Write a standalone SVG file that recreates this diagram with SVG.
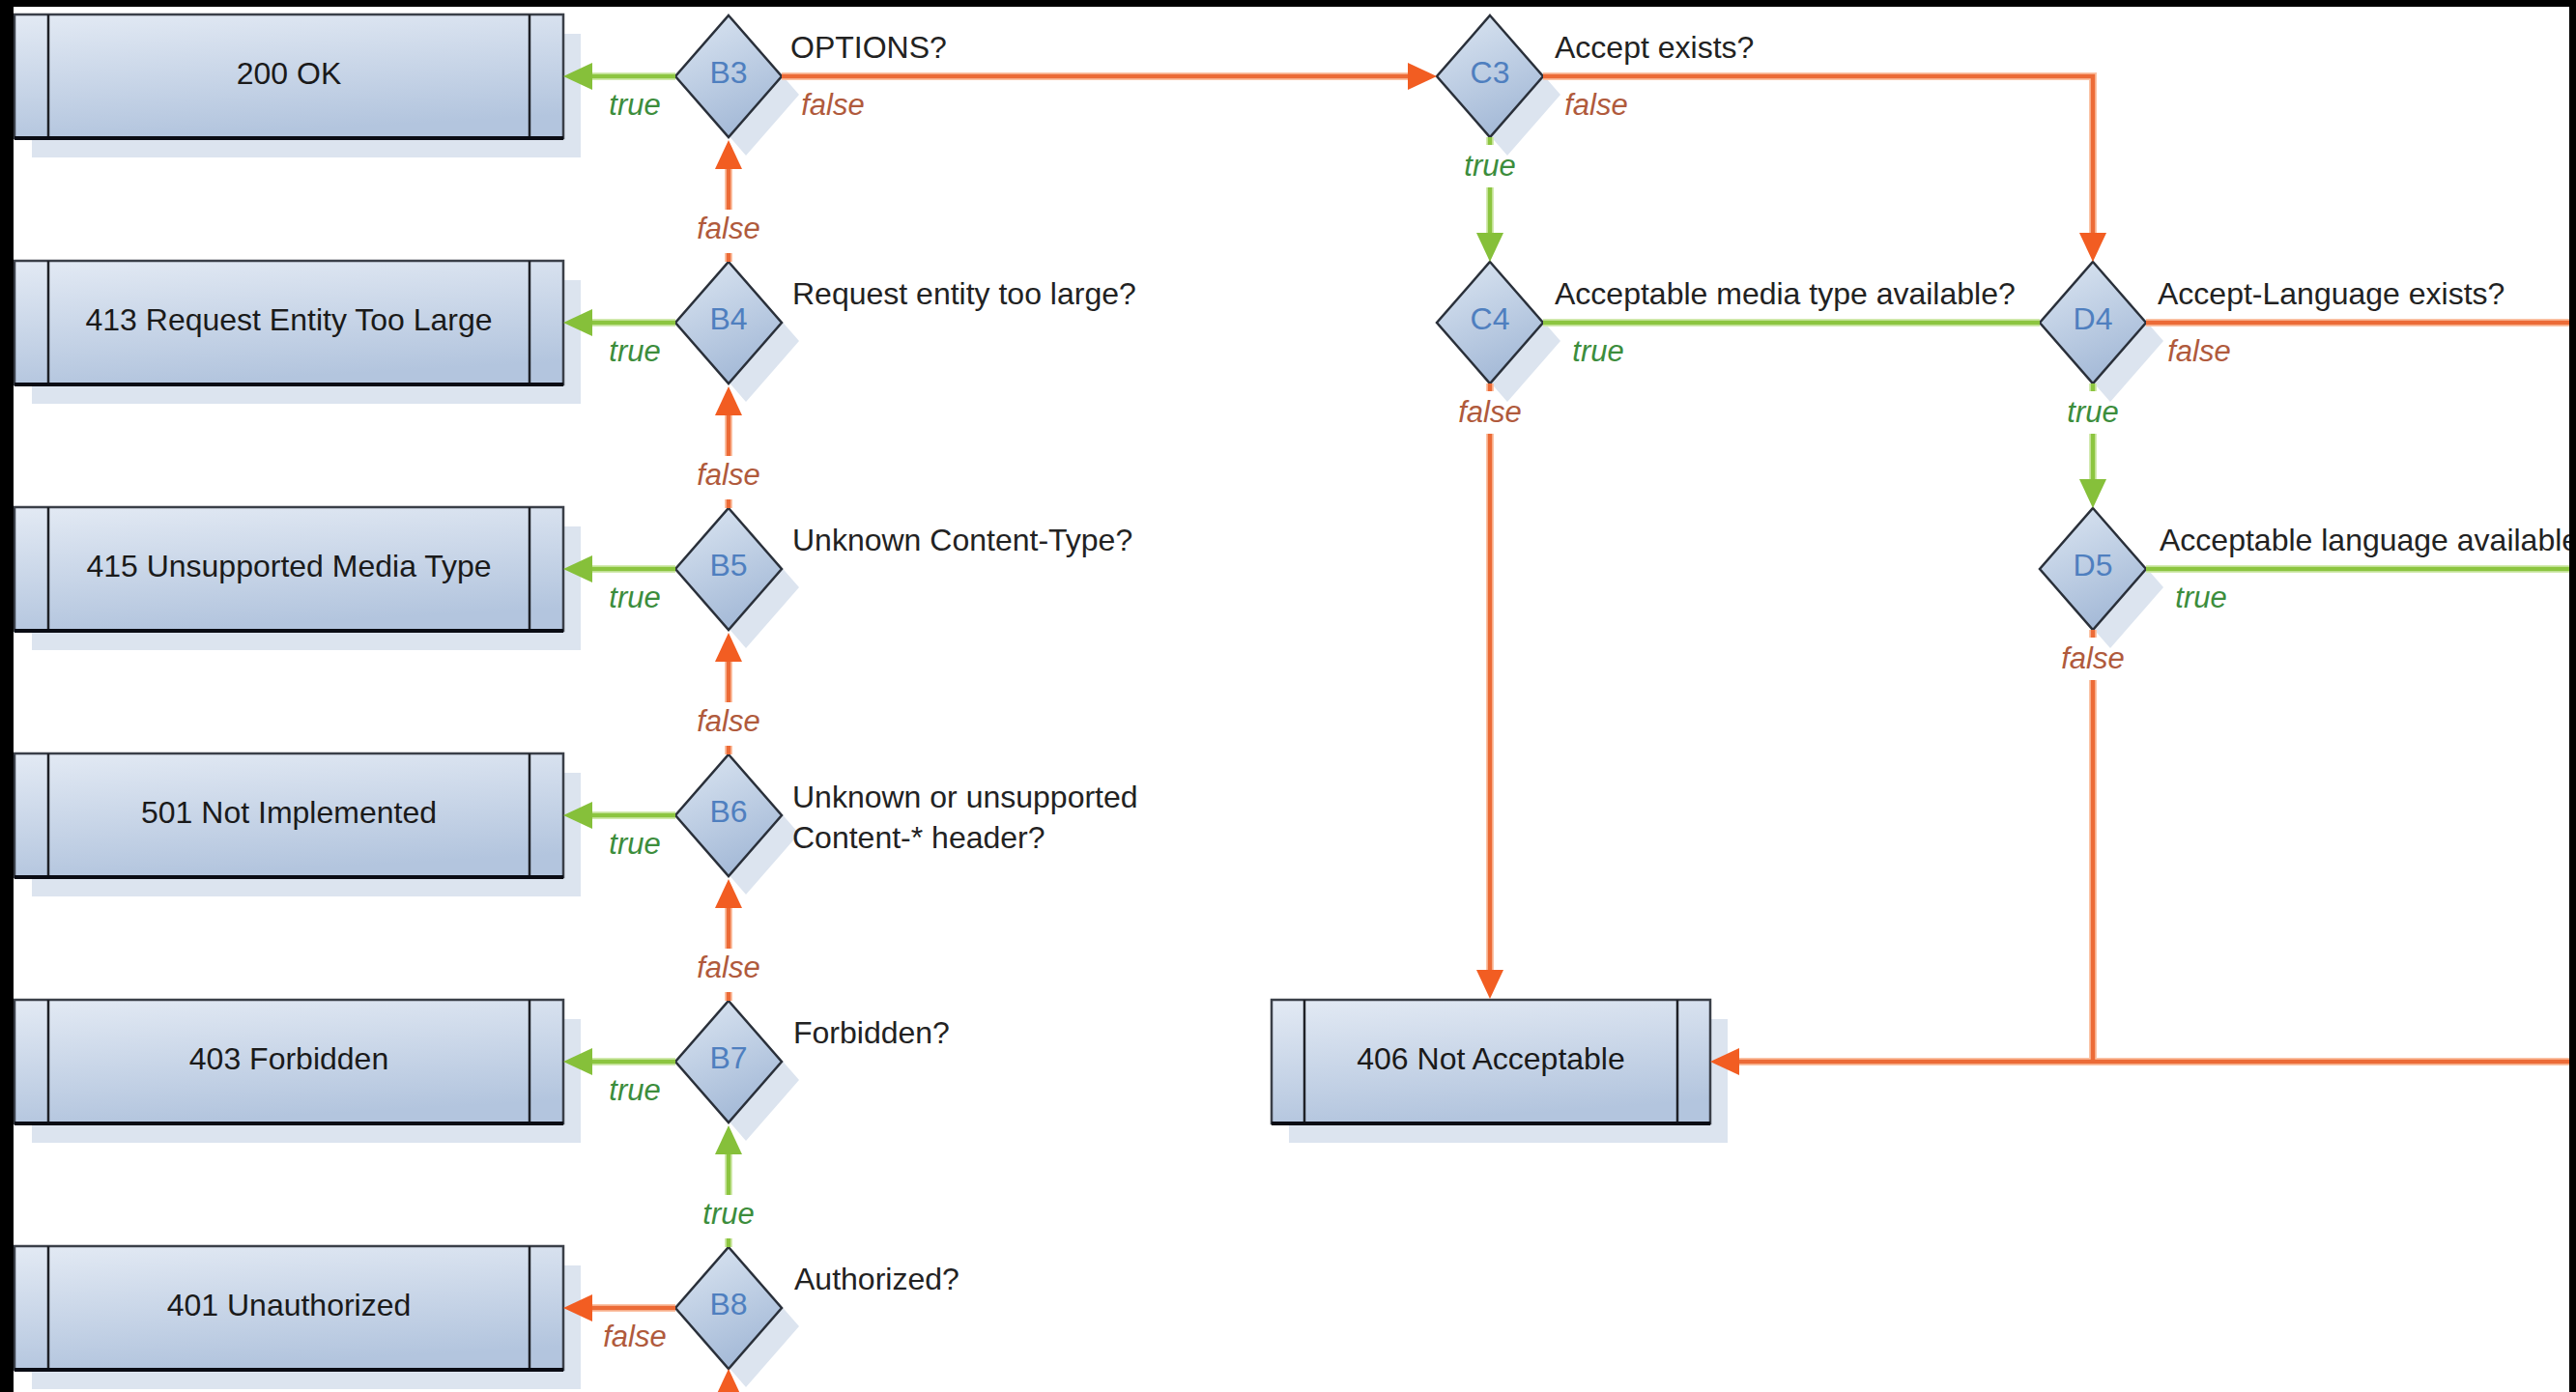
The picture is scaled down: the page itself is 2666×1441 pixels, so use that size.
<svg xmlns="http://www.w3.org/2000/svg" width="2666" height="1441" viewBox="0 0 2666 1441">
<style>
.bg{fill:#ffffff}
.blk{fill:#000000}
.shadow{fill:#dce4ef}
.body{fill:url(#gBox);stroke:#3a3f48;stroke-width:2.5}
.bar{stroke:#1e2026;stroke-width:2.5}
.base{stroke:#0a0c14;stroke-width:4}
.dia{fill:url(#gDia);stroke:#2a303a;stroke-width:2.5}
.btxt{font-family:"Liberation Sans",Arial,sans-serif;font-size:32px;fill:#1a1a1a;text-anchor:middle}
.id{font-family:"Liberation Sans",Arial,sans-serif;font-size:32px;fill:#4f7fbf;text-anchor:middle}
.q{font-family:"Liberation Sans",Arial,sans-serif;font-size:32px;fill:#222222}
.lt{font-family:"Liberation Sans",Arial,sans-serif;font-size:31px;font-style:italic;fill:#3c8d3c;text-anchor:middle}
.lf{font-family:"Liberation Sans",Arial,sans-serif;font-size:31px;font-style:italic;fill:#b05a3c;text-anchor:middle}
.oh{fill:none;stroke:#fbc3a6;stroke-width:8}
.gh{fill:none;stroke:#d3eab0;stroke-width:8}
.o{fill:none;stroke:#ec6b37;stroke-width:4.5;marker-end:url(#ao)}
.g{fill:none;stroke:#8cc540;stroke-width:4.5;marker-end:url(#ag)}
.on{fill:none;stroke:#ec6b37;stroke-width:4.5}
.gn{fill:none;stroke:#8cc540;stroke-width:4.5}
</style>
<defs>
<linearGradient id="gBox" x1="0" y1="0" x2="0.25" y2="1">
<stop offset="0" stop-color="#e3eaf4"/>
<stop offset="1" stop-color="#b3c5de"/>
</linearGradient>
<linearGradient id="gDia" x1="0" y1="0" x2="0.4" y2="1">
<stop offset="0" stop-color="#dce6f2"/>
<stop offset="1" stop-color="#a6bbd8"/>
</linearGradient>
<marker id="ao" markerUnits="userSpaceOnUse" markerWidth="32" markerHeight="30" refX="0" refY="0" orient="auto" overflow="visible">
<path d="M0,-14 L30,0 L0,14 Z" fill="#f25d22"/>
</marker>
<marker id="ag" markerUnits="userSpaceOnUse" markerWidth="32" markerHeight="30" refX="0" refY="0" orient="auto" overflow="visible">
<path d="M0,-14 L30,0 L0,14 Z" fill="#86c03a"/>
</marker>
</defs>
<rect class="bg" x="0" y="0" width="2666" height="1441"/>

<g id="n200">
<rect class="shadow" x="33" y="35" width="568" height="128"/>
<rect class="body" x="15" y="15" width="568" height="128"/>
<line class="bar" x1="50" y1="15" x2="50" y2="143"/><line class="bar" x1="548" y1="15" x2="548" y2="143"/>
<line class="base" x1="15" y1="143" x2="583" y2="143"/>
<text class="btxt" x="299" y="87">200 OK</text>
</g>
<g id="n413">
<rect class="shadow" x="33" y="290" width="568" height="128"/>
<rect class="body" x="15" y="270" width="568" height="128"/>
<line class="bar" x1="50" y1="270" x2="50" y2="398"/><line class="bar" x1="548" y1="270" x2="548" y2="398"/>
<line class="base" x1="15" y1="398" x2="583" y2="398"/>
<text class="btxt" x="299" y="342">413 Request Entity Too Large</text>
</g>
<g id="n415">
<rect class="shadow" x="33" y="545" width="568" height="128"/>
<rect class="body" x="15" y="525" width="568" height="128"/>
<line class="bar" x1="50" y1="525" x2="50" y2="653"/><line class="bar" x1="548" y1="525" x2="548" y2="653"/>
<line class="base" x1="15" y1="653" x2="583" y2="653"/>
<text class="btxt" x="299" y="597">415 Unsupported Media Type</text>
</g>
<g id="n501">
<rect class="shadow" x="33" y="800" width="568" height="128"/>
<rect class="body" x="15" y="780" width="568" height="128"/>
<line class="bar" x1="50" y1="780" x2="50" y2="908"/><line class="bar" x1="548" y1="780" x2="548" y2="908"/>
<line class="base" x1="15" y1="908" x2="583" y2="908"/>
<text class="btxt" x="299" y="852">501 Not Implemented</text>
</g>
<g id="n403">
<rect class="shadow" x="33" y="1055" width="568" height="128"/>
<rect class="body" x="15" y="1035" width="568" height="128"/>
<line class="bar" x1="50" y1="1035" x2="50" y2="1163"/><line class="bar" x1="548" y1="1035" x2="548" y2="1163"/>
<line class="base" x1="15" y1="1163" x2="583" y2="1163"/>
<text class="btxt" x="299" y="1107">403 Forbidden</text>
</g>
<g id="n401">
<rect class="shadow" x="33" y="1310" width="568" height="128"/>
<rect class="body" x="15" y="1290" width="568" height="128"/>
<line class="bar" x1="50" y1="1290" x2="50" y2="1418"/><line class="bar" x1="548" y1="1290" x2="548" y2="1418"/>
<line class="base" x1="15" y1="1418" x2="583" y2="1418"/>
<text class="btxt" x="299" y="1362">401 Unauthorized</text>
</g>
<g id="n406">
<rect class="shadow" x="1334" y="1055" width="454" height="128"/>
<rect class="body" x="1316" y="1035" width="454" height="128"/>
<line class="bar" x1="1350" y1="1035" x2="1350" y2="1163"/><line class="bar" x1="1736" y1="1035" x2="1736" y2="1163"/>
<line class="base" x1="1316" y1="1163" x2="1770" y2="1163"/>
<text class="btxt" x="1543" y="1107">406 Not Acceptable</text>
</g>

<g id="B3">
<polygon class="shadow" points="772,35 827,98 772,161 717,98"/>
<polygon class="dia" points="754,16 809,79 754,142 699,79"/>
<text class="id" x="754" y="86">B3</text>
<text class="q" x="818" y="60">OPTIONS?</text>
</g>
<g id="B4">
<polygon class="shadow" points="772,290 827,353 772,416 717,353"/>
<polygon class="dia" points="754,271 809,334 754,397 699,334"/>
<text class="id" x="754" y="341">B4</text>
<text class="q" x="820" y="315">Request entity too large?</text>
</g>
<g id="B5">
<polygon class="shadow" points="772,545 827,608 772,671 717,608"/>
<polygon class="dia" points="754,526 809,589 754,652 699,589"/>
<text class="id" x="754" y="596">B5</text>
<text class="q" x="820" y="570">Unknown Content-Type?</text>
</g>
<g id="B6">
<polygon class="shadow" points="772,800 827,863 772,926 717,863"/>
<polygon class="dia" points="754,781 809,844 754,907 699,844"/>
<text class="id" x="754" y="851">B6</text>
<text class="q" x="820" y="836">Unknown or unsupported</text>
<text class="q" x="820" y="878">Content-* header?</text>
</g>
<g id="B7">
<polygon class="shadow" points="772,1055 827,1118 772,1181 717,1118"/>
<polygon class="dia" points="754,1036 809,1099 754,1162 699,1099"/>
<text class="id" x="754" y="1106">B7</text>
<text class="q" x="821" y="1080">Forbidden?</text>
</g>
<g id="B8">
<polygon class="shadow" points="772,1310 827,1373 772,1436 717,1373"/>
<polygon class="dia" points="754,1291 809,1354 754,1417 699,1354"/>
<text class="id" x="754" y="1361">B8</text>
<text class="q" x="822" y="1335">Authorized?</text>
</g>
<g id="C3">
<polygon class="shadow" points="1560,35 1615,98 1560,161 1505,98"/>
<polygon class="dia" points="1542,16 1597,79 1542,142 1487,79"/>
<text class="id" x="1542" y="86">C3</text>
<text class="q" x="1609" y="60">Accept exists?</text>
</g>
<g id="C4">
<polygon class="shadow" points="1560,290 1615,353 1560,416 1505,353"/>
<polygon class="dia" points="1542,271 1597,334 1542,397 1487,334"/>
<text class="id" x="1542" y="341">C4</text>
<text class="q" x="1609" y="315">Acceptable media type available?</text>
</g>
<g id="D4">
<polygon class="shadow" points="2184,290 2239,353 2184,416 2129,353"/>
<polygon class="dia" points="2166,271 2221,334 2166,397 2111,334"/>
<text class="id" x="2166" y="341">D4</text>
<text class="q" x="2233" y="315">Accept-Language exists?</text>
</g>
<g id="D5">
<polygon class="shadow" points="2184,545 2239,608 2184,671 2129,608"/>
<polygon class="dia" points="2166,526 2221,589 2166,652 2111,589"/>
<text class="id" x="2166" y="596">D5</text>
<text class="q" x="2235" y="570">Acceptable language available</text>
</g>

<g id="connectors">
<g id="halos">
<path class="oh" d="M809,79 H1457"/>
<path class="oh" d="M1597,79 H2166 V241"/>
<path class="oh" d="M754,271 V262 M754,217 V175"/>
<path class="oh" d="M754,526 V517 M754,472 V430"/>
<path class="oh" d="M754,781 V772 M754,727 V685"/>
<path class="oh" d="M754,1036 V1027 M754,982 V940"/>
<path class="oh" d="M699,1354 H613"/>
<path class="oh" d="M1542,397 V405 M1542,449 V1004"/>
<path class="oh" d="M2221,334 H2666"/>
<path class="oh" d="M2166,652 V660 M2166,704 V1099"/>
<path class="oh" d="M2666,1099 H1800"/>
<path class="gh" d="M699,79 H613 M699,334 H613 M699,589 H613 M699,844 H613 M699,1099 H613"/>
<path class="gh" d="M754,1291 V1282 M754,1237 V1195"/>
<path class="gh" d="M1542,142 V150 M1542,194 V241"/>
<path class="gh" d="M1597,334 H2111"/>
<path class="gh" d="M2166,397 V405 M2166,449 V496"/>
<path class="gh" d="M2221,589 H2666"/>
</g>
<path id="e-b3-c3" class="o" d="M809,79 H1457"/>
<path id="e-c3-d4" class="o" d="M1597,79 H2166 V241"/>
<path class="on" d="M754,271 V262"/><path id="e-b4-b3" class="o" d="M754,217 V175"/>
<path class="on" d="M754,526 V517"/><path id="e-b5-b4" class="o" d="M754,472 V430"/>
<path class="on" d="M754,781 V772"/><path id="e-b6-b5" class="o" d="M754,727 V685"/>
<path class="on" d="M754,1036 V1027"/><path id="e-b7-b6" class="o" d="M754,982 V940"/>
<path id="e-b8-401" class="o" d="M699,1354 H613"/>
<path id="e-in-b8" class="o" d="M754,1470 V1447"/>
<path class="on" d="M1542,397 V405"/><path id="e-c4-406" class="o" d="M1542,449 V1004"/>
<path id="e-d4-out" class="on" d="M2221,334 H2666"/>
<path id="e-d5-false" class="on" d="M2166,652 V660 M2166,704 V1099"/>
<path id="e-in-406" class="o" d="M2666,1099 H1800"/>
<path id="e-b3-200" class="g" d="M699,79 H613"/>
<path id="e-b4-413" class="g" d="M699,334 H613"/>
<path id="e-b5-415" class="g" d="M699,589 H613"/>
<path id="e-b6-501" class="g" d="M699,844 H613"/>
<path id="e-b7-403" class="g" d="M699,1099 H613"/>
<path class="gn" d="M754,1291 V1282"/><path id="e-b8-b7" class="g" d="M754,1237 V1195"/>
<path class="gn" d="M1542,142 V150"/><path id="e-c3-c4" class="g" d="M1542,194 V241"/>
<path id="e-c4-d4" class="gn" d="M1597,334 H2111"/>
<path class="gn" d="M2166,397 V405"/><path id="e-d4-d5" class="g" d="M2166,449 V496"/>
<path id="e-d5-out" class="gn" d="M2221,589 H2666"/>
<g id="edge-labels">
<text class="lt" x="657" y="119">true</text>
<text class="lt" x="657" y="374">true</text>
<text class="lt" x="657" y="629">true</text>
<text class="lt" x="657" y="884">true</text>
<text class="lt" x="657" y="1139">true</text>
<text class="lf" x="657" y="1394">false</text>
<text class="lf" x="754" y="247">false</text>
<text class="lf" x="754" y="502">false</text>
<text class="lf" x="754" y="757">false</text>
<text class="lf" x="754" y="1012">false</text>
<text class="lt" x="754" y="1267">true</text>
<text class="lf" x="862" y="119">false</text>
<text class="lf" x="1652" y="119">false</text>
<text class="lt" x="1542" y="182">true</text>
<text class="lt" x="1654" y="374">true</text>
<text class="lf" x="1542" y="437">false</text>
<text class="lf" x="2276" y="374">false</text>
<text class="lt" x="2166" y="437">true</text>
<text class="lt" x="2278" y="629">true</text>
<text class="lf" x="2166" y="692">false</text>
</g>
</g>

<rect class="blk" x="0" y="0" width="2666" height="7"/>
<rect class="blk" x="0" y="0" width="14" height="1441"/>
<rect class="blk" x="2659" y="0" width="7" height="1441"/>
</svg>
